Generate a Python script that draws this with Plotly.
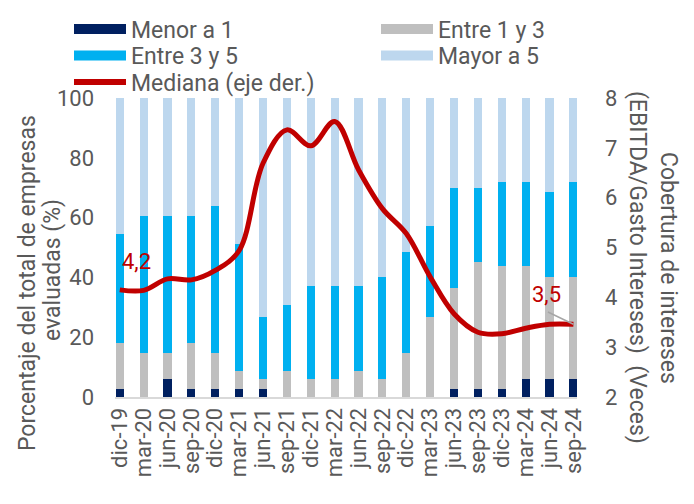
import plotly.graph_objects as go

categories = ["dic-19", "mar-20", "jun-20", "sep-20", "dic-20", "mar-21", "jun-21", "sep-21",
              "dic-21", "mar-22", "jun-22", "sep-22", "dic-22", "mar-23", "jun-23", "sep-23",
              "dic-23", "mar-24", "jun-24", "sep-24"]

menor_a_1 = [2.8, 0, 6.0, 2.8, 2.8, 2.8, 2.8, 0, 0, 0, 0, 0, 0, 0, 2.8, 2.8, 2.8, 6.0, 6.0, 6.0]
entre_1_3 = [15.3, 14.8, 8.8, 15.3, 12.0, 5.9, 3.2, 8.7, 6.0, 6.0, 8.7, 6.0, 14.8, 26.9, 33.5, 42.2, 40.9, 37.7, 34.3, 34.3]
entre_3_5 = [36.3, 45.7, 45.7, 42.4, 49.0, 42.4, 20.9, 22.2, 31.0, 31.0, 28.3, 34.3, 33.6, 30.2, 33.6, 24.9, 28.2, 28.2, 28.2, 31.6]
mayor_a_5 = [45.6, 39.5, 39.5, 39.5, 36.2, 48.9, 73.1, 69.1, 63.0, 63.0, 63.0, 59.7, 51.6, 42.9, 30.1, 30.1, 28.1, 28.1, 31.5, 28.1]
mediana = [4.15, 4.14, 4.37, 4.35, 4.54, 4.94, 6.69, 7.36, 7.04, 7.53, 6.56, 5.78, 5.28, 4.41,
           3.67, 3.30, 3.27, 3.38, 3.46, 3.46]

left_ticks = [0, 20, 40, 60, 80, 100]
right_ticks = [2, 3, 4, 5, 6, 7, 8]

colors = {"Menor a 1": "#002060", "Entre 1 y 3": "#BFBFBF",
          "Entre 3 y 5": "#00B0F0", "Mayor a 5": "#BDD7EE"}
RED = "#C00000"
GREY = "#595959"
FONT = "Roboto"
FS = 22
FS_LEG = 23
FS_TITLE = 23

W, H = 694, 504
OFF = 8  # page body margin of the html page
ML, MT = 115 - OFF, 98 - OFF
PW, PH = 462, 299
MR, MB = W - ML - PW, H - MT - PH

fig = go.Figure()
series = [("Menor a 1", menor_a_1), ("Entre 1 y 3", entre_1_3),
          ("Entre 3 y 5", entre_3_5), ("Mayor a 5", mayor_a_5)]
for name, vals in series:
    fig.add_trace(go.Bar(x=categories, y=vals, name=name, marker_color=colors[name],
                         marker_line_width=0, width=0.34, showlegend=False,
                         hoverinfo="skip"))

fig.add_trace(go.Scatter(x=categories, y=mediana, yaxis="y2", mode="lines",
                         line=dict(color=RED, width=5, shape="spline", smoothing=1.0),
                         showlegend=False, hoverinfo="skip"))

# legend entries: one small legend per entry, placed like the original
legend_items = [("Menor a 1", colors["Menor a 1"], 13, 73, 21),
                ("Entre 1 y 3", colors["Entre 1 y 3"], 13, 380, 21),
                ("Entre 3 y 5", colors["Entre 3 y 5"], 13, 73, 47.5),
                ("Mayor a 5", colors["Mayor a 5"], 13, 380, 47.5),
                ("Mediana (eje der.)", RED, 6, 73, 74)]
legend_layouts = {}
for i, (name, col, lw, px, py) in enumerate(legend_items):
    key = "legend" if i == 0 else f"legend{i + 1}"
    fig.add_trace(go.Scatter(x=[None], y=[None], mode="lines", name=name, legend=key,
                             line=dict(color=col, width=lw)))
    legend_layouts[key] = dict(xref="container", yref="container", x=(px - 12) / W,
                               y=1 - py / H, xanchor="left", yanchor="middle",
                               itemwidth=52, font=dict(size=FS_LEG, color=GREY, family=FONT),
                               bgcolor="rgba(0,0,0,0)", borderwidth=0)

# data labels
fig.add_annotation(x=categories[0], y=mediana[0], yref="y2", text="4,2", showarrow=False,
                   xshift=17, yshift=28, font=dict(color=RED, size=FS, family=FONT))
fig.add_annotation(x=categories[-1], y=mediana[-1], yref="y2", text="3,5", showarrow=False,
                   xshift=-27, yshift=30, font=dict(color=RED, size=FS, family=FONT))
fig.add_annotation(x=categories[-1], y=mediana[-1], yref="y2", text="", showarrow=True,
                   arrowhead=0, arrowwidth=1.5, arrowcolor="#A6A6A6", ax=-27, ay=-13,
                   standoff=0)


def px_x(px):
    return (px - OFF - ML) / PW


def px_y(py):
    return (MT + PH - (py - OFF)) / PH


# axis titles, one annotation per line
for text, cx, cy in [("Porcentaje del total de empresas", 27, 283), ("evaluadas (%)", 52, 270)]:
    fig.add_annotation(xref="paper", yref="paper", x=px_x(cx), y=px_y(cy), text=text,
                       textangle=-90, showarrow=False,
                       font=dict(color=GREY, size=FS_TITLE, family=FONT),
                       xanchor="center", yanchor="middle")
for text, cx, cy in [("Cobertura de intereses", 669, 268),
                     ("(EBITDA/Gasto Intereses)  (Veces)", 638, 267)]:
    fig.add_annotation(xref="paper", yref="paper", x=px_x(cx), y=px_y(cy), text=text,
                       textangle=90, showarrow=False,
                       font=dict(color=GREY, size=FS_TITLE, family=FONT),
                       xanchor="center", yanchor="middle")

fig.update_layout(
    width=W, height=H, barmode="stack",
    margin=dict(l=ML, r=MR, t=MT, b=MB, autoexpand=False),
    paper_bgcolor="white", plot_bgcolor="white",
    font=dict(family=FONT, size=FS, color=GREY),
    showlegend=True,
    xaxis=dict(type="category", range=[-0.2, 19.15], tickangle=-90, showgrid=False,
               tickmode="array", tickvals=categories, ticktext=categories,
               showline=True, linecolor="#D9D9D9", linewidth=2, ticks="", zeroline=False,
               tickfont=dict(size=FS, color=GREY)),
    yaxis=dict(range=[0, 100], tickvals=left_ticks, showgrid=False, zeroline=False,
               showline=False, ticks="", ticklabelstandoff=20,
               tickfont=dict(size=FS, color=GREY)),
    yaxis2=dict(range=[2, 8], tickvals=right_ticks, overlaying="y", side="right",
                showgrid=False, zeroline=False, showline=False, ticks="",
                ticklabelstandoff=27, tickfont=dict(size=FS, color=GREY)),
    **legend_layouts,
)

fig.write_html("out.html")
